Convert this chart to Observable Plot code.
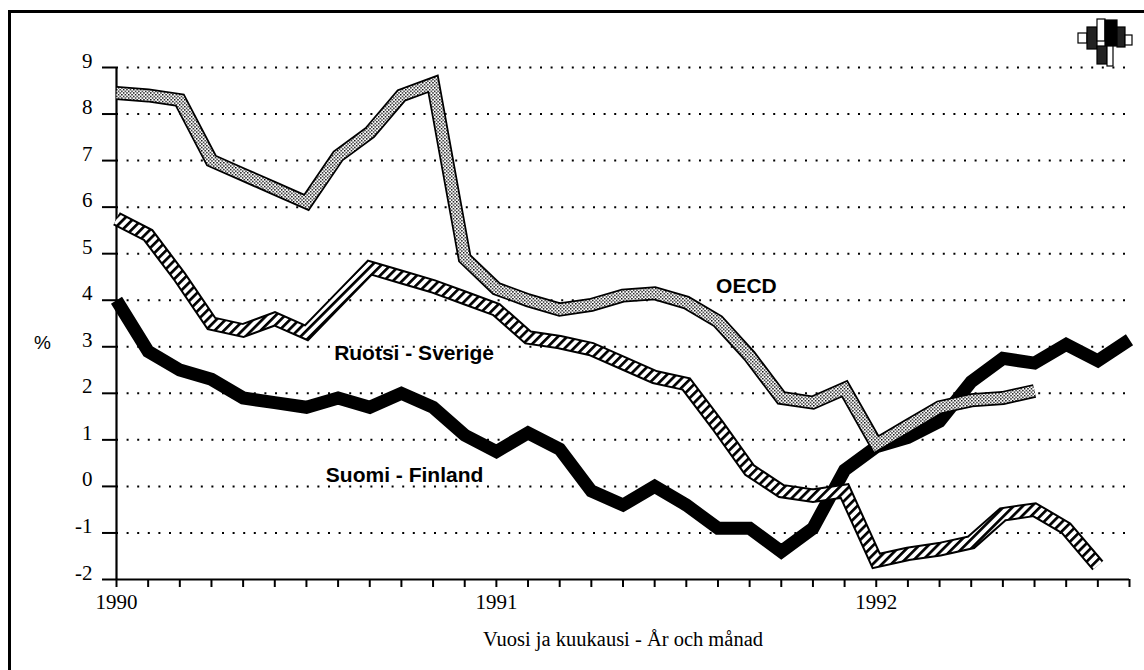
<!DOCTYPE html>
<html><head><meta charset="utf-8">
<script src="https://cdn.jsdelivr.net/npm/d3@7"></script>
<script src="https://cdn.jsdelivr.net/npm/@observablehq/plot@0.6"></script>
<style>
html,body{margin:0;padding:0;background:#fff;}
#wrap{position:relative;width:1144px;height:670px;overflow:hidden;background:#fff;}
#frame{position:absolute;left:8px;top:10px;width:1160px;height:700px;border-left:3px solid #000;border-top:3.5px solid #000;box-sizing:border-box;pointer-events:none;}
#logo{position:absolute;left:1070px;top:10px;}
</style></head><body>
<div id="wrap"><div id="chart"></div><div id="frame"></div>
<svg id="logo" width="70" height="62" viewBox="1070 10 70 62">
  <g stroke="#000" stroke-width="1.2">
    <rect x="1078" y="33" width="9" height="10" fill="#fff"/>
    <rect x="1087" y="27" width="10" height="22" fill="#222"/>
    <rect x="1097" y="19" width="8" height="22" fill="#fff"/>
    <rect x="1105" y="20" width="12" height="26" fill="#000"/>
    <rect x="1117" y="27" width="8" height="20" fill="#222"/>
    <rect x="1125" y="35" width="7" height="10" fill="#fff"/>
    <rect x="1097" y="46" width="10" height="18" fill="#222"/>
    <rect x="1107" y="46" width="6" height="20" fill="#fff"/>
  </g>
</svg>
</div>
<script>
// month index 0 = 1990-01
const months = d3.range(0, 33);
const yearTicks = [0, 12, 24];
const yearLabels = ["1990", "1991", "1992"];
const yTicks = [-2, -1, 0, 1, 2, 3, 4, 5, 6, 7, 8, 9];
const xTitle = "Vuosi ja kuukausi - År och månad";
const yTitle = "%";

const finland = [4.0, 2.9, 2.5, 2.3, 1.9, 1.8, 1.7, 1.9, 1.7, 2.0, 1.7, 1.1,
  0.75, 1.15, 0.8, -0.1, -0.4, 0.0, -0.4, -0.9, -0.9, -1.4, -0.9, 0.35,
  0.85, 1.05, 1.4, 2.25, 2.75, 2.65, 3.05, 2.7, 3.15];
const sweden = [5.75, 5.4, 4.5, 3.5, 3.35, 3.6, 3.3, 4.0, 4.7, 4.5, 4.3, 4.05,
  3.8, 3.2, 3.1, 2.95, 2.65, 2.35, 2.2, 1.3, 0.35, -0.1, -0.2, -0.1,
  -1.6, -1.45, -1.35, -1.2, -0.6, -0.5, -0.9, -1.7];
const oecd = [8.45, 8.4, 8.3, 7.0, 6.7, 6.4, 6.1, 7.1, 7.6, 8.4, 8.65, 4.9,
  4.25, 4.0, 3.8, 3.9, 4.1, 4.15, 3.95, 3.55, 2.8, 1.9, 1.8, 2.1,
  0.9, 1.3, 1.7, 1.85, 1.9, 2.05];

const seriesNames = ["OECD", "Ruotsi - Sverige", "Suomi - Finland"];
// annotation anchors in data space (month, value)
const labelMonth = [19.9, 9.4, 9.1];
const labelValue = [4.31, 2.85, 0.23];

const toRows = arr => arr.map((v, i) => ({m: i, v}));
const fin = toRows(finland), swe = toRows(sweden), oec = toRows(oecd);
const labels = seriesNames.map((name, i) => ({name, m: labelMonth[i], v: labelValue[i]}));

const yearOf = d => { const k = yearTicks.indexOf(d); return k >= 0 ? yearLabels[k] : ""; };
const lineOpts = {x: "m", y: "v", curve: "linear", strokeLinecap: "butt", strokeLinejoin: "miter", strokeMiterlimit: 2.5};

const chart = Plot.plot({
  width: 1144, height: 670,
  marginLeft: 116, marginRight: 15, marginTop: 67, marginBottom: 91,
  style: {fontFamily: "'Liberation Serif', 'Times New Roman', serif", fontSize: "21px", color: "#000", background: "#fff"},
  x: {domain: [0, 32], axis: null},
  y: {domain: [-2, 9], axis: null},
  marks: [
    Plot.ruleY(yTicks.filter(d => d > -2), {stroke: "#000", strokeWidth: 2, strokeDasharray: "2 8.6"}),
    Plot.axisY({ticks: yTicks, tickSize: 14, tickFormat: () => "", strokeWidth: 2, label: null}),
    Plot.text(yTicks, {y: d => d, text: d => String(d), frameAnchor: "left", dx: -24, textAnchor: "end", lineAnchor: "bottom", fontSize: 21}),
    Plot.text([yTitle], {frameAnchor: "left", y: () => 3, dx: -74, dy: -4, textAnchor: "middle", fontFamily: "'Liberation Sans', Arial, sans-serif", fontSize: 19}),
    Plot.axisX({ticks: months, tickSize: 8, tickPadding: 7, tickFormat: yearOf, strokeWidth: 2, fontSize: 21, label: null}),
    Plot.text([xTitle], {frameAnchor: "bottom", dy: 66, lineAnchor: "bottom", fontSize: 20.5}),
    Plot.ruleX([0], {stroke: "#000", strokeWidth: 2.2}),
    Plot.ruleY([-2], {stroke: "#000", strokeWidth: 2.2}),
    Plot.line(fin, {...lineOpts, stroke: "#000", strokeWidth: 13}),
    Plot.line(swe, {...lineOpts, stroke: "#000", strokeWidth: 14.5}),
    Plot.line(swe, {...lineOpts, stroke: "url(#hatch)", strokeWidth: 10.5}),
    Plot.line(oec, {...lineOpts, stroke: "#000", strokeWidth: 14}),
    Plot.line(oec, {...lineOpts, stroke: "url(#stipple)", strokeWidth: 10.5}),
    Plot.text(labels, {x: "m", y: "v", text: "name", textAnchor: "middle", lineAnchor: "middle", fontFamily: "'Liberation Sans', Arial, sans-serif", fontWeight: "bold", fontSize: 21})
  ]
});

d3.select(chart).insert("defs", ":first-child").html(`
  <pattern id="hatch" patternUnits="userSpaceOnUse" width="6.5" height="6.5" patternTransform="rotate(45)">
    <rect width="6.5" height="6.5" fill="#fff"/><rect width="2.7" height="6.5" fill="#000"/>
  </pattern>
  <pattern id="stipple" patternUnits="userSpaceOnUse" width="3.4" height="3.4">
    <rect width="3.4" height="3.4" fill="#fff"/>
    <rect x="0" y="0" width="1.4" height="1.4" fill="#000"/>
    <rect x="1.7" y="1.7" width="1.4" height="1.4" fill="#000"/>
  </pattern>`);

document.getElementById("chart").appendChild(chart);
</script>
</body></html>
